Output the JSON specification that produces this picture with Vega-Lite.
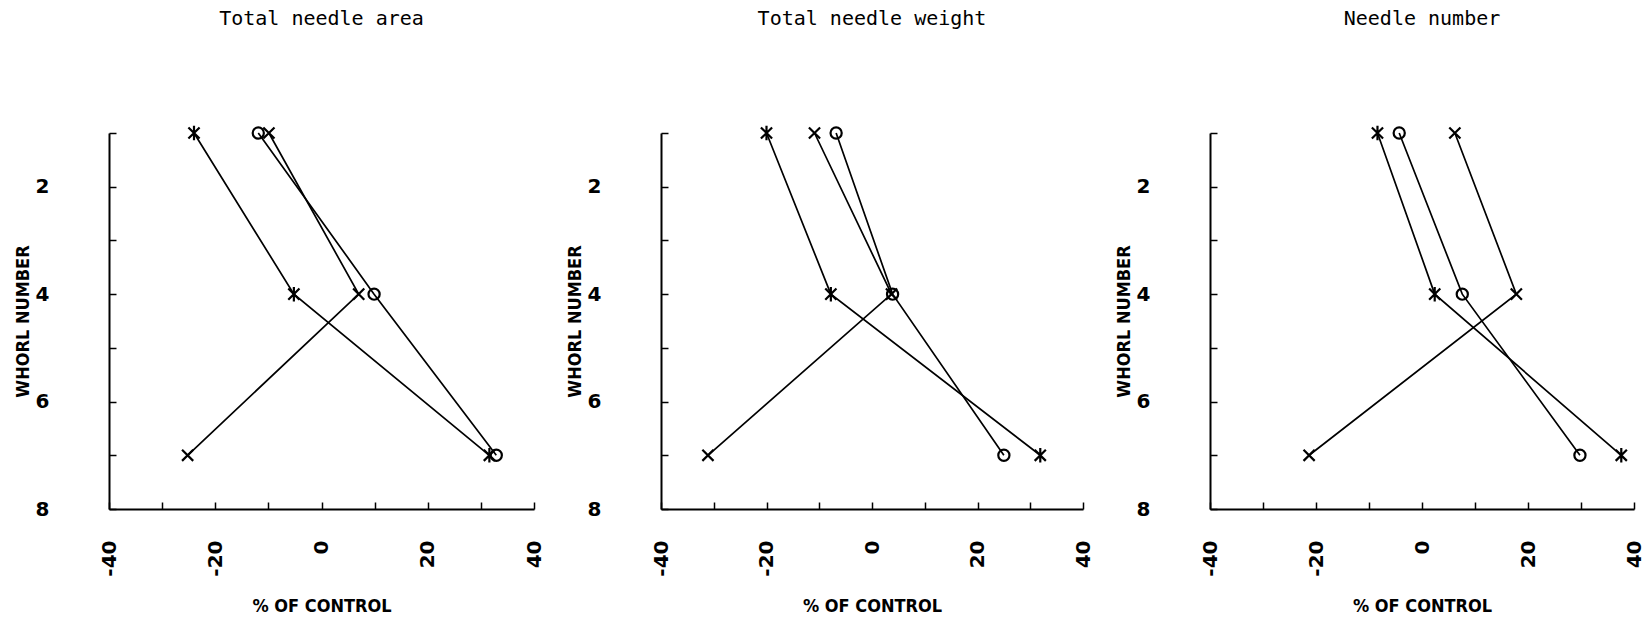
{
  "$schema": "https://vega.github.io/schema/vega-lite/v6.json",
  "padding": {"left": 14, "top": 9, "right": 2, "bottom": 0},
  "background": "white",
  "datasets": {
    "whorls": [
      {"panel": "area", "treatment": "T1", "whorl": 1, "pct": -11.9},
      {"panel": "area", "treatment": "T1", "whorl": 4, "pct": 9.9},
      {"panel": "area", "treatment": "T1", "whorl": 7, "pct": 32.9},
      {"panel": "area", "treatment": "T2", "whorl": 1, "pct": -9.9},
      {"panel": "area", "treatment": "T2", "whorl": 4, "pct": 7.0},
      {"panel": "area", "treatment": "T2", "whorl": 7, "pct": -25.2},
      {"panel": "area", "treatment": "T3", "whorl": 1, "pct": -24.0},
      {"panel": "area", "treatment": "T3", "whorl": 4, "pct": -5.2},
      {"panel": "area", "treatment": "T3", "whorl": 7, "pct": 31.6},
      {"panel": "weight", "treatment": "T1", "whorl": 1, "pct": -6.8},
      {"panel": "weight", "treatment": "T1", "whorl": 4, "pct": 3.9},
      {"panel": "weight", "treatment": "T1", "whorl": 7, "pct": 25.0},
      {"panel": "weight", "treatment": "T2", "whorl": 1, "pct": -10.9},
      {"panel": "weight", "treatment": "T2", "whorl": 4, "pct": 3.7},
      {"panel": "weight", "treatment": "T2", "whorl": 7, "pct": -31.1},
      {"panel": "weight", "treatment": "T3", "whorl": 1, "pct": -20.0},
      {"panel": "weight", "treatment": "T3", "whorl": 4, "pct": -7.8},
      {"panel": "weight", "treatment": "T3", "whorl": 7, "pct": 31.9},
      {"panel": "number", "treatment": "T1", "whorl": 1, "pct": -4.3},
      {"panel": "number", "treatment": "T1", "whorl": 4, "pct": 7.6},
      {"panel": "number", "treatment": "T1", "whorl": 7, "pct": 29.8},
      {"panel": "number", "treatment": "T2", "whorl": 1, "pct": 6.2},
      {"panel": "number", "treatment": "T2", "whorl": 4, "pct": 17.8},
      {"panel": "number", "treatment": "T2", "whorl": 7, "pct": -21.3},
      {"panel": "number", "treatment": "T3", "whorl": 1, "pct": -8.4},
      {"panel": "number", "treatment": "T3", "whorl": 4, "pct": 2.4},
      {"panel": "number", "treatment": "T3", "whorl": 7, "pct": 37.6}
    ]
  },
  "data": {"name": "whorls"},
  "spacing": 22,
  "hconcat": [
    {
      "title": "Total needle area",
      "width": 425, "height": 376,
      "transform": [{"filter": "datum.panel === 'area'"}],
      "encoding": {
        "x": {"field": "pct", "type": "quantitative", "scale": {"domain": [-40, 40], "nice": false, "zero": false},
              "axis": {"title": "% OF CONTROL", "values": [-40, -30, -20, -10, 0, 10, 20, 30, 40], "labelExpr": "datum.value % 20 == 0 ? '' + datum.value : ''"}},
        "y": {"field": "whorl", "type": "quantitative", "scale": {"domain": [1, 8], "reverse": true, "nice": false, "zero": false},
              "axis": {"title": "WHORL NUMBER", "values": [1, 2, 3, 4, 5, 6, 7, 8], "labelExpr": "datum.value % 2 == 0 ? '' + datum.value : ''"}}
      },
      "layer": [
        {"mark": {"type": "line", "color": "black", "strokeWidth": 1.7}, "encoding": {"detail": {"field": "treatment"}, "order": {"field": "whorl"}}},
        {"mark": {"type": "point", "filled": false, "color": "black", "strokeWidth": 2.2, "size": 125, "opacity": 1},
         "encoding": {"shape": {"field": "treatment", "scale": {"domain": ["T1", "T2", "T3"], "range": ["circle", "M-1,-1L1,1M-1,1L1,-1", "M-1,-1L1,1M-1,1L1,-1M0,-1.3L0,1.3"]}, "legend": null}}}
      ]
    },
    {
      "title": "Total needle weight",
      "width": 422, "height": 376,
      "transform": [{"filter": "datum.panel === 'weight'"}],
      "encoding": {
        "x": {"field": "pct", "type": "quantitative", "scale": {"domain": [-40, 40], "nice": false, "zero": false},
              "axis": {"title": "% OF CONTROL", "values": [-40, -30, -20, -10, 0, 10, 20, 30, 40], "labelExpr": "datum.value % 20 == 0 ? '' + datum.value : ''"}},
        "y": {"field": "whorl", "type": "quantitative", "scale": {"domain": [1, 8], "reverse": true, "nice": false, "zero": false},
              "axis": {"title": "WHORL NUMBER", "values": [1, 2, 3, 4, 5, 6, 7, 8], "labelExpr": "datum.value % 2 == 0 ? '' + datum.value : ''"}}
      },
      "layer": [
        {"mark": {"type": "line", "color": "black", "strokeWidth": 1.7}, "encoding": {"detail": {"field": "treatment"}, "order": {"field": "whorl"}}},
        {"mark": {"type": "point", "filled": false, "color": "black", "strokeWidth": 2.2, "size": 125, "opacity": 1},
         "encoding": {"shape": {"field": "treatment", "scale": {"domain": ["T1", "T2", "T3"], "range": ["circle", "M-1,-1L1,1M-1,1L1,-1", "M-1,-1L1,1M-1,1L1,-1M0,-1.3L0,1.3"]}, "legend": null}}}
      ]
    },
    {
      "title": "Needle number",
      "width": 424, "height": 376,
      "transform": [{"filter": "datum.panel === 'number'"}],
      "encoding": {
        "x": {"field": "pct", "type": "quantitative", "scale": {"domain": [-40, 40], "nice": false, "zero": false},
              "axis": {"title": "% OF CONTROL", "values": [-40, -30, -20, -10, 0, 10, 20, 30, 40], "labelExpr": "datum.value % 20 == 0 ? '' + datum.value : ''"}},
        "y": {"field": "whorl", "type": "quantitative", "scale": {"domain": [1, 8], "reverse": true, "nice": false, "zero": false},
              "axis": {"title": "WHORL NUMBER", "values": [1, 2, 3, 4, 5, 6, 7, 8], "labelExpr": "datum.value % 2 == 0 ? '' + datum.value : ''"}}
      },
      "layer": [
        {"mark": {"type": "line", "color": "black", "strokeWidth": 1.7}, "encoding": {"detail": {"field": "treatment"}, "order": {"field": "whorl"}}},
        {"mark": {"type": "point", "filled": false, "color": "black", "strokeWidth": 2.2, "size": 125, "opacity": 1},
         "encoding": {"shape": {"field": "treatment", "scale": {"domain": ["T1", "T2", "T3"], "range": ["circle", "M-1,-1L1,1M-1,1L1,-1", "M-1,-1L1,1M-1,1L1,-1M0,-1.3L0,1.3"]}, "legend": null}}}
      ]
    }
  ],
  "resolve": {"scale": {"x": "independent", "y": "independent"}},
  "config": {
    "view": {"stroke": null},
    "title": {"font": "DejaVu Sans Mono", "fontSize": 20, "fontWeight": "normal", "color": "black", "offset": 92, "anchor": "middle"},
    "axisX": {
      "grid": false,
      "labelAngle": 270,
      "labelAlign": "right",
      "labelBaseline": "middle",
      "labelPadding": 38,
      "labelFont": "DejaVu Sans",
      "labelFontSize": 20,
      "labelFontWeight": "bold",
      "labelColor": "black",
      "labelOverlap": false,
      "domainColor": "black",
      "domainWidth": 2,
      "tickColor": "black",
      "tickWidth": 1.5,
      "tickSize": -7,
      "titleFont": "DejaVu Sans Condensed",
      "titleFontSize": 18,
      "titleFontWeight": "bold",
      "titleColor": "black",
      "titlePadding": 21
    },
    "axisY": {
      "grid": false,
      "labelPadding": 67,
      "labelFont": "DejaVu Sans",
      "labelFontSize": 20,
      "labelFontWeight": "bold",
      "labelColor": "black",
      "labelOverlap": false,
      "domainColor": "black",
      "domainWidth": 2,
      "tickColor": "black",
      "tickWidth": 1.5,
      "tickSize": -7,
      "titleFont": "DejaVu Sans Condensed",
      "titleFontSize": 18,
      "titleFontWeight": "bold",
      "titleColor": "black",
      "titlePadding": 3
    }
  }
}
